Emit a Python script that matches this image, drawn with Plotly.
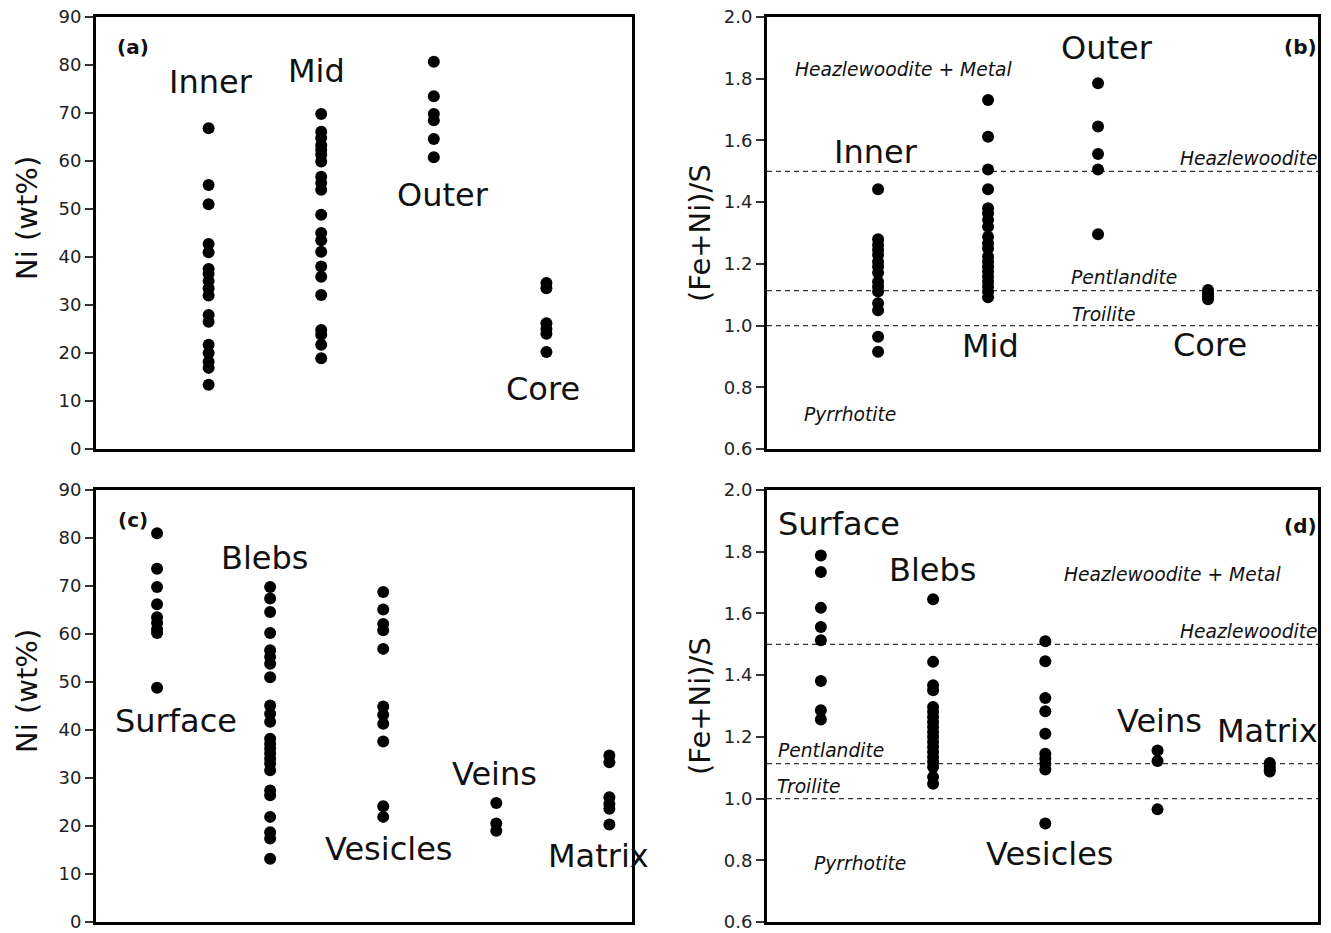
import plotly.graph_objects as go

# ---------------- data ----------------
cats_ab = ["Inner", "Mid", "Outer", "Core"]
ni_inner = [66.8, 55, 51, 42.7, 41, 37.5, 36.5, 35, 33.5, 32, 27.9, 26.5, 21.7, 20, 18.2, 16.9, 13.4]
ni_mid = [69.8, 66.1, 64.8, 63.3, 62.3, 61.3, 59.9, 56.7, 55.4, 54, 48.8, 45, 43.5, 41.1, 38, 35.9, 32.1, 24.8, 23.8, 21.7, 18.9]
ni_outer = [80.7, 73.5, 69.8, 68.5, 64.6, 60.8]
ni_core = [34.6, 33.5, 26.2, 25, 24, 20.2]

r_inner = [1.442, 1.28, 1.261, 1.245, 1.229, 1.207, 1.191, 1.171, 1.142, 1.126, 1.11, 1.072, 1.05, 0.964, 0.915]
r_mid = [1.731, 1.612, 1.506, 1.442, 1.38, 1.364, 1.342, 1.32, 1.288, 1.267, 1.25, 1.223, 1.207, 1.191,
         1.175, 1.158, 1.142, 1.126, 1.11, 1.092]
r_outer = [1.785, 1.645, 1.556, 1.506, 1.296]
r_core = [1.115, 1.105, 1.095, 1.085]

cats_cd = ["Surface", "Blebs", "Vesicles", "Veins", "Matrix"]
ni_surface = [81.0, 73.6, 69.8, 66.2, 63.5, 62.3, 61, 60.2, 48.8]
ni_blebs = [69.8, 67.4, 64.6, 60.2, 56.6, 55.2, 53.8, 51, 45.1, 43.4, 41.7, 38.2, 37.1, 36.1, 35.1, 34.0,
            33.0, 31.6, 27.4, 26.4, 21.9, 18.7, 17.4, 13.2]
ni_vesicles = [68.75, 65.1, 62.1, 60.8, 56.9, 44.9, 43.2, 41.3, 37.6, 24.1, 21.9]
ni_veins = [24.8, 20.5, 19.0]
ni_matrix = [34.7, 33.3, 26.0, 24.6, 23.6, 20.3]

r_surface = [1.788, 1.734, 1.618, 1.556, 1.513, 1.381, 1.286, 1.256]
r_blebs = [1.646, 1.443, 1.367, 1.351, 1.297, 1.281, 1.264, 1.248, 1.232, 1.216, 1.2, 1.183, 1.167,
           1.151, 1.135, 1.119, 1.102, 1.07, 1.048]
r_vesicles = [1.51, 1.445, 1.326, 1.283, 1.21, 1.145, 1.129, 1.113, 1.094, 0.919]
r_veins = [1.156, 1.122, 0.965]
r_matrix = [1.115, 1.105, 1.095, 1.088]

mineral_names = ["Heazlewoodite", "Pentlandite", "Troilite"]
mineral_ratios = [1.5, 1.113, 1.0]

ni_ticks = [0, 10, 20, 30, 40, 50, 60, 70, 80, 90]
r_ticks = [0.6, 0.8, 1.0, 1.2, 1.4, 1.6, 1.8, 2.0]

# ---------------- layout helpers ----------------
W, H = 1331, 933
FONT = "DejaVu Sans"
DY = -3  # small upward shift of the lower row so its bottom tick labels fit


def px(x):
    return x / W


def py(y):
    return 1 - y / H


fig = go.Figure()

panels = [
    ("x", "y", cats_ab, [ni_inner, ni_mid, ni_outer, ni_core]),
    ("x2", "y2", cats_ab, [r_inner, r_mid, r_outer, r_core]),
    ("x3", "y3", cats_cd, [ni_surface, ni_blebs, ni_vesicles, ni_veins, ni_matrix]),
    ("x4", "y4", cats_cd, [r_surface, r_blebs, r_vesicles, r_veins, r_matrix]),
]

for xa, ya, cats, series in panels:
    for i, (c, vals) in enumerate(zip(cats, series)):
        fig.add_trace(go.Scatter(
            x=[i + 1] * len(vals), y=vals, mode="markers", name=c,
            xaxis=xa, yaxis=ya, showlegend=False, cliponaxis=False,
            marker=dict(size=12, color="black", line=dict(width=0)),
        ))

# mineral reference lines in (b) and (d)
for xa, ya in [("x2", "y2"), ("x4", "y4")]:
    for v in mineral_ratios:
        fig.add_shape(type="line", xref=f"{xa} domain", yref=ya, x0=0, x1=1, y0=v, y1=v,
                      line=dict(color="#333", width=1.2, dash="5px,4px"), layer="below")

# axes
dom_x_left = [px(96), px(632)]
dom_x_right = [px(767), px(1318)]
dom_y_top = [py(449), py(17)]
dom_y_bot = [py(925 + DY), py(493 + DY)]

frame = dict(showline=True, linewidth=3, linecolor="black", mirror=True,
             showgrid=False, zeroline=False, automargin=False)
xcommon = dict(**frame, showticklabels=False, ticks="")
ycommon = dict(**frame, ticks="outside", ticklen=8, tickwidth=1.5, tickcolor="#333",
               ticklabeloverflow="allow",
               tickfont=dict(family=FONT, size=18, color="#222"))

fig.update_layout(
    width=W, height=H,
    margin=dict(l=0, r=0, t=0, b=0, autoexpand=False),
    paper_bgcolor="white", plot_bgcolor="white",
    xaxis=dict(**xcommon, domain=dom_x_left, range=[0.0, 4.76], anchor="y"),
    yaxis=dict(**ycommon, domain=dom_y_top, range=[0, 90], tickvals=ni_ticks, anchor="x"),
    xaxis2=dict(**xcommon, domain=dom_x_right, range=[-0.01, 5.0], anchor="y2"),
    yaxis2=dict(**ycommon, domain=dom_y_top, range=[0.6, 2.0], tickvals=r_ticks,
                tickformat=".1f", anchor="x2"),
    xaxis3=dict(**xcommon, domain=dom_x_left, range=[0.46, 5.2], anchor="y3"),
    yaxis3=dict(**ycommon, domain=dom_y_bot, range=[0, 90], tickvals=ni_ticks, anchor="x3"),
    xaxis4=dict(**xcommon, domain=dom_x_right, range=[0.52, 5.43], anchor="y4"),
    yaxis4=dict(**ycommon, domain=dom_y_bot, range=[0.6, 2.0], tickvals=r_ticks,
                tickformat=".1f", anchor="x4"),
)

annots = []


def label(text, x, y, size=32, italic=False, bold=False, xanchor="center"):
    t = text
    if bold:
        t = f"<b>{t}</b>"
    if italic:
        t = f"<i>{t}</i>"
    annots.append(dict(text=t, x=px(x), y=py(y), xref="paper", yref="paper",
                       xanchor=xanchor, yanchor="middle", showarrow=False,
                       font=dict(family=FONT, size=size, color="#111")))


# axis titles
for (x, y, t) in [(27, 218, "Ni (wt%)"), (27, 694 + DY, "Ni (wt%)"),
                  (700, 233, "(Fe+Ni)/S"), (700, 709 + DY, "(Fe+Ni)/S")]:
    annots.append(dict(text=t, x=px(x), y=py(y), xref="paper", yref="paper",
                       xanchor="center", yanchor="middle", showarrow=False, textangle=-90,
                       font=dict(family=FONT, size=29, color="#111")))

# panel letters
label("(a)", 133, 47, size=20, bold=True)
label("(b)", 1300, 47, size=20, bold=True)
label("(c)", 133, 523 + DY, size=20, bold=True)
label("(d)", 1300, 529 + DY, size=20, bold=True)

# category labels
pos_a = [(211, 82), (316, 71), (443, 195), (543, 389)]
pos_b = [(876, 152), (990, 346), (1107, 48), (1210, 345)]
pos_c = [(176, 724), (265, 561), (389, 852), (494, 777), (598, 859)]
pos_d = [(839, 527), (933, 573), (1050, 857), (1159, 724), (1267, 734)]
for cats, pos, dy in [(cats_ab, pos_a, 0), (cats_ab, pos_b, 0), (cats_cd, pos_c, DY), (cats_cd, pos_d, DY)]:
    for c, (x, y) in zip(cats, pos):
        label(c, x, y + dy)

# mineral labels
MS = 18.7
label(mineral_names[0] + " + Metal", 903, 69, size=MS, italic=True)
label(mineral_names[0], 1320, 158, size=MS, italic=True, xanchor="right")
label(mineral_names[1], 1124, 277, size=MS, italic=True)
label(mineral_names[2], 1103, 314, size=MS, italic=True)
label("Pyrrhotite", 850, 414, size=MS, italic=True)

label(mineral_names[0] + " + Metal", 1172, 577 + DY, size=MS, italic=True)
label(mineral_names[0], 1320, 634 + DY, size=MS, italic=True, xanchor="right")
label(mineral_names[1], 831, 753 + DY, size=MS, italic=True)
label(mineral_names[2], 808, 789 + DY, size=MS, italic=True)
label("Pyrrhotite", 860, 866 + DY, size=MS, italic=True)

fig.update_layout(annotations=annots)

fig.write_html(
    "out.html",
    config={"displayModeBar": False},
    post_script="document.body.style.margin='0';document.body.style.overflow='hidden';",
)
